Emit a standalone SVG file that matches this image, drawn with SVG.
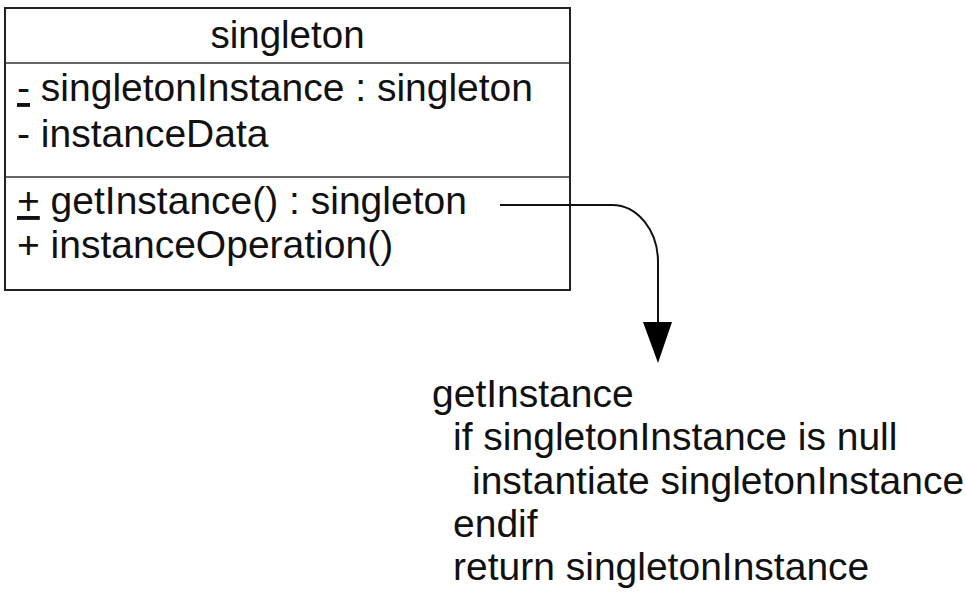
<svg xmlns="http://www.w3.org/2000/svg" width="966" height="593" viewBox="0 0 966 593">
<style>
text { font-family: "Liberation Sans", Arial, sans-serif; font-size: 39px; fill: #111; }
.note text { font-size: 39px; }
.box { fill: #fff; stroke: #222; stroke-width: 2; }
.div { stroke: #333; stroke-width: 1.5; }
.conn { fill: none; stroke: #111; stroke-width: 2; }
</style>
<rect width="966" height="593" fill="#fff"/>
<g id="class-singleton">
  <rect class="box" x="5" y="8" width="565" height="282"/>
  <line class="div" x1="5" y1="63" x2="570" y2="63"/>
  <line class="div" x1="5" y1="177" x2="570" y2="177"/>
  <text x="287.5" y="48" text-anchor="middle" style="font-size:38.5px">singleton</text>
  <text x="17" y="101"><tspan text-decoration="underline">-</tspan> singletonInstance : singleton</text>
  <text x="17" y="147">- instanceData</text>
  <text x="17" y="214"><tspan text-decoration="underline">+</tspan> getInstance() : singleton</text>
  <text x="17" y="258">+ instanceOperation()</text>
</g>
<g id="connectors">
  <path class="conn" d="M500,205 H612 A46 57 0 0 1 658 262 V324"/>
  <polygon points="643,322 672,322 658,363" fill="#000"/>
</g>
<g id="note-getInstance" class="note">
  <text x="432" y="407">getInstance</text>
  <text x="453" y="450">if singletonInstance is null</text>
  <text x="472" y="494">instantiate singletonInstance</text>
  <text x="453" y="537">endif</text>
  <text x="453" y="580">return singletonInstance</text>
</g>
</svg>
